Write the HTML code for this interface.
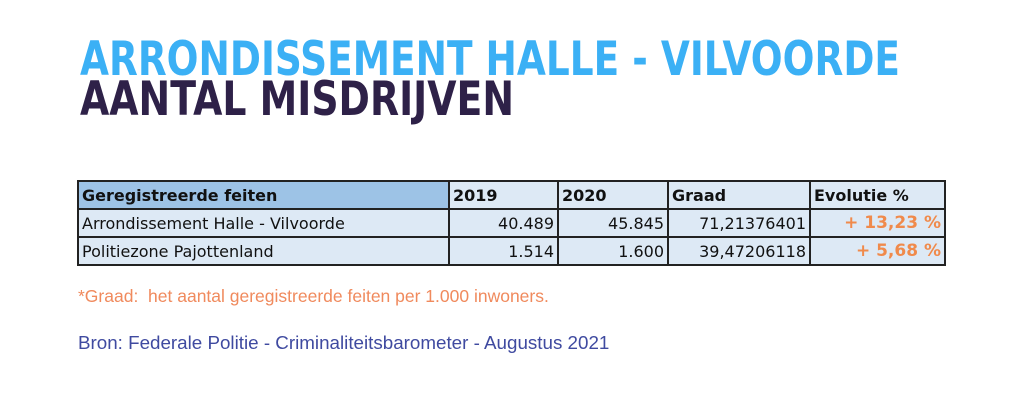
<!DOCTYPE html>
<html><head><meta charset="utf-8"><style>
body{margin:0;width:1024px;height:400px;background:#fff;position:relative;overflow:hidden;font-family:"Liberation Sans",sans-serif}
svg{position:absolute;left:0;top:0}
table{position:absolute;left:77px;top:180px;border-collapse:collapse;font-family:"DejaVu Sans","Liberation Sans",sans-serif;font-size:16px;color:#111}
td{border:2px solid #222;height:26px;padding:0 3px;background:#dde9f5;white-space:nowrap}
tr.h td{font-weight:bold;}
.r{text-align:right}
.o{color:#f08a4b;font-weight:bold;text-align:right;font-size:17px}
.p{position:absolute;left:78px;white-space:nowrap}
</style></head><body>
<svg width="1024" height="140">
<text x="80" y="75" font-family="DejaVu Sans" font-weight="bold" font-size="47" fill="#3bb0f5" textLength="820" lengthAdjust="spacingAndGlyphs">ARRONDISSEMENT HALLE - VILVOORDE</text>
<text x="80" y="115" font-family="DejaVu Sans" font-weight="bold" font-size="47" fill="#2e2148" textLength="434" lengthAdjust="spacingAndGlyphs">AANTAL MISDRIJVEN</text>
</svg>
<table>
<colgroup><col style="width:371px"><col style="width:109px"><col style="width:110px"><col style="width:142px"><col style="width:135px"></colgroup>
<tr class="h"><td style="background:#9dc3e6">Geregistreerde feiten</td><td>2019</td><td>2020</td><td>Graad</td><td>Evolutie %</td></tr>
<tr><td>Arrondissement Halle - Vilvoorde</td><td class="r">40.489</td><td class="r">45.845</td><td class="r">71,21376401</td><td class="o">+ 13,23 %</td></tr>
<tr><td>Politiezone Pajottenland</td><td class="r">1.514</td><td class="r">1.600</td><td class="r">39,47206118</td><td class="o">+ 5,68 %</td></tr>
</table>
<div class="p" style="top:286px;color:#f08a5d;font-size:17.5px">*Graad:&nbsp; het aantal geregistreerde feiten per 1.000 inwoners.</div>
<div class="p" style="top:332px;color:#3f4aa0;font-size:18.8px">Bron: Federale Politie - Criminaliteitsbarometer - Augustus 2021</div>
</body></html>
